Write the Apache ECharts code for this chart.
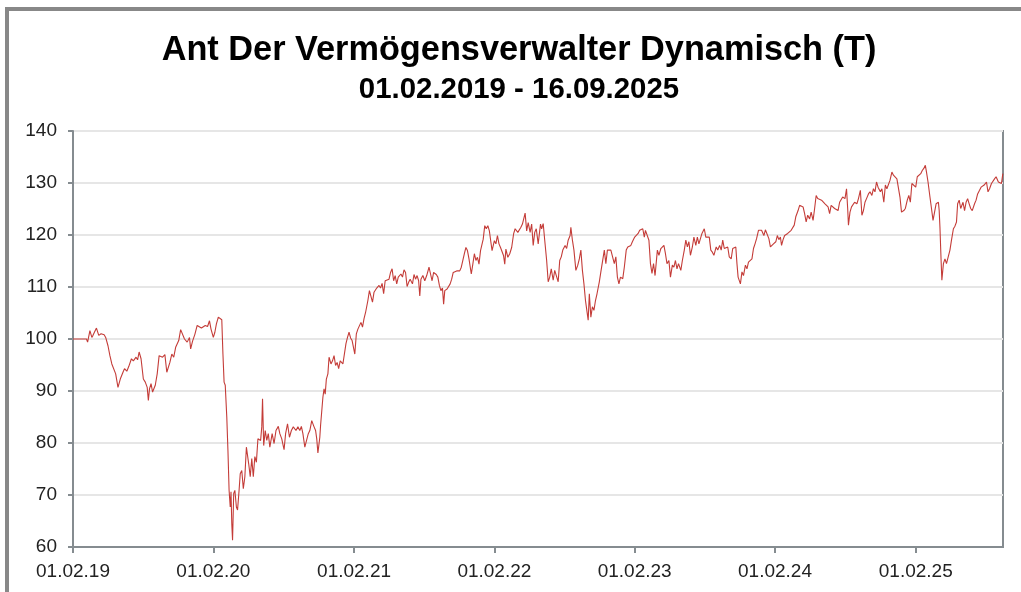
<!DOCTYPE html>
<html>
<head>
<meta charset="utf-8">
<script src="https://cdn.jsdelivr.net/npm/echarts@6.0.0/dist/echarts.min.js"></script>
<style>
  html, body { margin: 0; padding: 0; background: #ffffff; }
  #chart { width: 1021px; height: 592px; }
</style>
</head>
<body>
<div id="chart"></div>
<script>
const titleText = 'Ant Der Vermögensverwalter Dynamisch (T)';
const subtitleText = '01.02.2019 - 16.09.2025';

const tickDates = ['2019-02-01','2020-02-01','2021-02-01','2022-02-01','2023-02-01','2024-02-01','2025-02-01'];
const tickLabels = ['01.02.19','01.02.20','01.02.21','01.02.22','01.02.23','01.02.24','01.02.25'];
const yTicks = [60, 70, 80, 90, 100, 110, 120, 130, 140];

const dates = [
'2019-02-01','2019-03-08','2019-03-11','2019-03-17','2019-03-22','2019-03-25','2019-04-03','2019-04-09','2019-04-15','2019-04-23',
'2019-04-27','2019-05-03','2019-05-08','2019-05-13','2019-05-18','2019-05-23','2019-05-29','2019-06-04','2019-06-11','2019-06-15',
'2019-06-21','2019-06-26','2019-07-03','2019-07-08','2019-07-15','2019-07-19','2019-07-23','2019-07-28','2019-08-03','2019-08-08',
'2019-08-13','2019-08-16','2019-08-19','2019-08-23','2019-08-27','2019-09-03','2019-09-08','2019-09-13','2019-09-17','2019-09-22',
'2019-09-28','2019-10-03','2019-10-08','2019-10-11','2019-10-16','2019-10-21','2019-10-26','2019-11-03','2019-11-08','2019-11-13',
'2019-11-18','2019-11-22','2019-11-25','2019-12-01','2019-12-04','2019-12-09','2019-12-15','2019-12-21','2019-12-26','2020-01-01',
'2020-01-05','2020-01-11','2020-01-17','2020-01-22','2020-01-26','2020-02-01','2020-02-05','2020-02-09','2020-02-14','2020-02-19',
'2020-02-23','2020-02-26','2020-02-29','2020-03-03','2020-03-07','2020-03-10','2020-03-13','2020-03-16','2020-03-18','2020-03-20',
'2020-03-22','2020-03-25','2020-03-28','2020-04-01','2020-04-04','2020-04-08','2020-04-11','2020-04-15','2020-04-19','2020-04-23',
'2020-04-27','2020-05-03','2020-05-07','2020-05-11','2020-05-15','2020-05-19','2020-05-23','2020-05-27','2020-06-03','2020-06-06',
'2020-06-08','2020-06-11','2020-06-15','2020-06-19','2020-06-23','2020-06-27','2020-07-03','2020-07-08','2020-07-13','2020-07-19',
'2020-07-23','2020-07-28','2020-08-03','2020-08-07','2020-08-12','2020-08-17','2020-08-22','2020-08-27','2020-09-03','2020-09-08',
'2020-09-13','2020-09-17','2020-09-21','2020-09-26','2020-10-01','2020-10-05','2020-10-09','2020-10-14','2020-10-19','2020-10-24',
'2020-10-27','2020-10-30','2020-11-04','2020-11-06','2020-11-10','2020-11-12','2020-11-15','2020-11-18','2020-11-21','2020-11-25',
'2020-11-28','2020-12-03','2020-12-07','2020-12-11','2020-12-15','2020-12-19','2020-12-23','2020-12-27','2021-01-03','2021-01-07',
'2021-01-11','2021-01-15','2021-01-19','2021-01-23','2021-01-27','2021-02-03','2021-02-07','2021-02-11','2021-02-15','2021-02-19',
'2021-02-23','2021-02-27','2021-03-03','2021-03-07','2021-03-09','2021-03-13','2021-03-17','2021-03-21','2021-03-25','2021-04-01',
'2021-04-07','2021-04-11','2021-04-15','2021-04-19','2021-04-23','2021-04-27','2021-05-03','2021-05-07','2021-05-11','2021-05-15',
'2021-05-19','2021-05-23','2021-05-27','2021-06-03','2021-06-07','2021-06-11','2021-06-15','2021-06-19','2021-06-23','2021-06-27',
'2021-07-03','2021-07-07','2021-07-11','2021-07-15','2021-07-19','2021-07-22','2021-07-25','2021-07-30','2021-08-04','2021-08-09',
'2021-08-15','2021-08-19','2021-08-23','2021-08-27','2021-09-03','2021-09-07','2021-09-11','2021-09-15','2021-09-19','2021-09-22',
'2021-09-25','2021-10-01','2021-10-05','2021-10-09','2021-10-13','2021-10-17','2021-10-21','2021-10-26','2021-11-03','2021-11-07',
'2021-11-11','2021-11-15','2021-11-19','2021-11-23','2021-11-27','2021-12-03','2021-12-07','2021-12-11','2021-12-15','2021-12-19',
'2021-12-23','2021-12-27','2022-01-03','2022-01-07','2022-01-11','2022-01-15','2022-01-19','2022-01-23','2022-01-26','2022-02-01',
'2022-02-05','2022-02-09','2022-02-13','2022-02-17','2022-02-21','2022-02-25','2022-02-28','2022-03-03','2022-03-08','2022-03-13',
'2022-03-18','2022-03-23','2022-03-27','2022-04-03','2022-04-07','2022-04-11','2022-04-15','2022-04-19','2022-04-22','2022-04-26',
'2022-04-30','2022-05-05','2022-05-09','2022-05-13','2022-05-17','2022-05-21','2022-05-26','2022-06-01','2022-06-04','2022-06-08',
'2022-06-12','2022-06-17','2022-06-21','2022-06-25','2022-06-29','2022-07-04','2022-07-08','2022-07-12','2022-07-17','2022-07-21',
'2022-07-25','2022-07-29','2022-08-04','2022-08-08','2022-08-12','2022-08-17','2022-08-19','2022-08-23','2022-08-27','2022-09-01',
'2022-09-06','2022-09-10','2022-09-14','2022-09-18','2022-09-22','2022-09-26','2022-09-29','2022-10-03','2022-10-06','2022-10-10',
'2022-10-14','2022-10-18','2022-10-22','2022-10-26','2022-11-01','2022-11-05','2022-11-10','2022-11-14','2022-11-18','2022-11-22',
'2022-11-26','2022-12-01','2022-12-05','2022-12-10','2022-12-14','2022-12-18','2022-12-22','2022-12-26','2023-01-01','2023-01-05',
'2023-01-10','2023-01-14','2023-01-18','2023-01-22','2023-01-26','2023-02-01','2023-02-05','2023-02-10','2023-02-14','2023-02-18',
'2023-02-22','2023-02-26','2023-03-01','2023-03-05','2023-03-10','2023-03-14','2023-03-18','2023-03-22','2023-03-26','2023-04-01',
'2023-04-05','2023-04-10','2023-04-14','2023-04-18','2023-04-22','2023-04-26','2023-05-01','2023-05-05','2023-05-10','2023-05-14',
'2023-05-18','2023-05-22','2023-05-26','2023-06-01','2023-06-05','2023-06-10','2023-06-14','2023-06-18','2023-06-22','2023-06-26',
'2023-07-01','2023-07-05','2023-07-10','2023-07-14','2023-07-18','2023-07-22','2023-07-26','2023-08-01','2023-08-05','2023-08-10',
'2023-08-14','2023-08-18','2023-08-22','2023-08-26','2023-09-01','2023-09-05','2023-09-10','2023-09-14','2023-09-18','2023-09-22',
'2023-09-26','2023-10-01','2023-10-05','2023-10-10','2023-10-14','2023-10-18','2023-10-22','2023-10-25','2023-10-28','2023-11-03',
'2023-11-07','2023-11-11','2023-11-16','2023-11-20','2023-11-24','2023-11-28','2023-12-03','2023-12-07','2023-12-11','2023-12-15',
'2023-12-20','2023-12-24','2023-12-28','2024-01-03','2024-01-07','2024-01-11','2024-01-16','2024-01-20','2024-01-24','2024-01-28',
'2024-02-03','2024-02-07','2024-02-11','2024-02-15','2024-02-18','2024-02-22','2024-02-26','2024-03-01','2024-03-05','2024-03-10',
'2024-03-14','2024-03-18','2024-03-22','2024-03-26','2024-04-01','2024-04-05','2024-04-10','2024-04-14','2024-04-18','2024-04-22',
'2024-04-26','2024-05-01','2024-05-05','2024-05-10','2024-05-14','2024-05-18','2024-05-22','2024-05-26','2024-06-01','2024-06-05',
'2024-06-10','2024-06-14','2024-06-18','2024-06-22','2024-06-26','2024-07-01','2024-07-05','2024-07-10','2024-07-14','2024-07-18',
'2024-07-22','2024-07-26','2024-08-01','2024-08-05','2024-08-08','2024-08-10','2024-08-14','2024-08-18','2024-08-22','2024-08-26',
'2024-09-01','2024-09-05','2024-09-10','2024-09-14','2024-09-18','2024-09-22','2024-09-26','2024-10-01','2024-10-05','2024-10-10',
'2024-10-14','2024-10-18','2024-10-22','2024-10-26','2024-11-01','2024-11-05','2024-11-10','2024-11-14','2024-11-18','2024-11-22',
'2024-11-26','2024-12-01','2024-12-05','2024-12-10','2024-12-14','2024-12-18','2024-12-22','2024-12-26','2025-01-01','2025-01-05',
'2025-01-10','2025-01-14','2025-01-18','2025-01-22','2025-01-26','2025-02-01','2025-02-05','2025-02-10','2025-02-14','2025-02-18',
'2025-02-22','2025-02-26','2025-03-01','2025-03-05','2025-03-10','2025-03-14','2025-03-18','2025-03-22','2025-03-26','2025-04-01',
'2025-04-03','2025-04-05','2025-04-08','2025-04-10','2025-04-14','2025-04-18','2025-04-22','2025-05-01','2025-05-05','2025-05-10',
'2025-05-14','2025-05-18','2025-05-21','2025-05-25','2025-05-29','2025-06-04','2025-06-08','2025-06-12','2025-06-16','2025-06-20',
'2025-06-24','2025-06-28','2025-07-04','2025-07-08','2025-07-12','2025-07-17','2025-07-21','2025-07-25','2025-07-29','2025-08-04',
'2025-08-08','2025-08-12','2025-08-17','2025-08-21','2025-08-25','2025-08-29','2025-09-04','2025-09-08','2025-09-12','2025-09-15',
'2025-09-16'
];

const values = [
100.0,100.0,99.4,101.6,100.3,100.7,102.1,100.7,101.0,100.8,
100.3,98.7,96.8,95.2,95.1,93.3,90.7,92.3,93.6,94.3,
93.8,94.7,96.2,95.8,96.5,96.0,97.5,96.2,92.3,91.7,
90.7,88.2,90.4,91.4,89.8,91.1,93.3,96.8,97.0,96.5,
97.0,93.6,93.3,95.5,97.1,96.5,98.4,99.7,101.8,101.6,
100.0,100.3,99.4,100.3,98.1,99.6,100.9,102.6,102.8,102.1,
102.4,102.6,102.4,103.5,101.9,100.3,101.3,102.9,104.2,104.0,
103.7,97.1,91.7,91.1,85.0,78.6,70.9,67.7,70.6,64.5,
61.3,70.3,70.9,67.7,67.1,70.9,74.1,74.7,71.2,73.5,
79.2,76.0,73.5,77.0,73.5,77.4,76.3,80.8,80.5,83.1,
88.5,79.5,82.4,80.5,81.8,79.2,81.8,79.9,82.4,83.2,
81.8,80.8,78.7,81.8,83.7,81.1,82.4,83.1,82.4,83.1,
82.4,83.2,81.8,79.2,78.9,81.8,82.4,84.3,83.3,82.4,
80.8,78.1,81.1,83.4,83.4,88.8,90.4,89.4,92.3,93.3,
96.5,95.2,95.8,96.8,94.9,95.5,94.3,95.8,95.2,95.2,
99.1,100.3,101.3,100.2,99.7,97.1,101.0,101.9,101.6,103.2,
102.3,103.9,105.1,104.8,107.4,109.3,109.6,107.1,109.0,109.8,
110.3,109.8,110.7,108.7,111.2,110.9,111.5,112.8,113.5,111.2,
112.2,110.6,111.9,112.5,111.9,113.3,112.8,110.1,110.9,111.5,
110.6,112.4,111.5,112.2,111.2,108.3,111.5,112.2,111.2,112.2,
113.8,112.5,111.2,112.8,112.4,111.9,110.3,109.3,109.8,106.7,
109.3,109.6,109.3,110.6,111.5,112.8,112.5,113.1,113.1,113.8,
115.1,116.4,117.6,117.0,115.4,112.5,114.4,116.4,115.1,115.7,
114.4,117.0,119.2,121.8,121.2,121.8,120.8,118.6,117.0,118.9,
118.3,119.9,118.3,117.6,117.9,116.0,114.4,117.3,115.7,116.4,
117.6,120.2,121.2,120.5,120.8,121.5,122.1,121.8,124.2,120.8,
122.4,120.5,122.1,118.0,120.5,121.2,118.3,122.1,121.2,122.2,
119.0,115.1,111.0,111.9,113.5,111.3,113.2,113.5,111.0,115.1,
115.8,117.1,118.0,117.4,119.0,119.9,121.5,119.0,117.1,113.2,
114.2,115.4,117.1,113.2,110.6,107.4,105.8,103.6,108.7,104.2,
106.2,105.5,107.4,108.7,111.0,112.9,112.6,117.1,114.5,117.1,
117.4,117.1,117.4,114.5,115.8,111.9,110.6,111.9,111.6,113.8,
117.1,117.7,117.4,118.0,118.7,119.6,119.3,120.3,120.9,120.6,
121.2,119.6,120.9,121.2,119.0,114.5,112.6,114.5,112.2,117.1,
116.1,117.4,117.1,118.0,116.4,114.5,115.1,111.9,114.2,113.8,
115.1,113.5,114.5,113.2,115.1,117.1,119.0,117.7,118.7,116.1,
117.7,119.6,118.0,119.6,118.3,119.3,120.3,121.2,119.6,119.3,
119.6,117.1,116.7,116.1,117.7,117.1,118.0,117.1,119.0,117.4,
117.1,117.7,115.8,115.4,117.4,117.1,117.7,114.5,111.9,110.6,
112.9,112.2,114.2,113.5,114.8,114.5,115.4,117.4,118.3,119.3,
120.9,120.6,120.9,119.9,121.0,121.2,119.3,117.7,117.4,118.3,
118.7,119.9,119.1,119.6,118.0,119.1,119.9,119.6,120.3,120.6,
120.9,121.0,121.9,123.5,124.7,125.7,126.0,125.4,124.1,122.5,
123.8,123.1,124.4,122.8,125.1,127.6,127.0,127.3,126.7,126.8,
126.0,126.3,125.4,124.1,125.7,126.0,125.1,125.4,124.7,126.3,
126.0,127.3,127.0,128.9,125.1,121.9,124.4,125.4,125.1,126.3,
126.0,127.0,128.6,123.8,124.7,126.3,127.0,127.9,128.3,127.6,
128.9,128.3,130.2,129.2,128.3,128.9,126.3,129.6,128.9,129.2,
130.5,132.1,131.5,131.5,130.8,130.5,127.3,124.4,124.7,125.1,
126.7,127.6,126.3,129.9,130.2,129.2,131.2,131.5,131.8,132.4,
132.8,133.4,132.1,130.2,127.3,125.1,122.8,124.4,126.0,126.3,
124.7,121.5,115.1,111.3,114.5,115.4,114.5,117.1,119.0,121.2,
121.7,122.5,126.0,126.7,125.1,126.3,124.7,126.3,127.0,126.0,
125.1,124.7,126.0,126.7,127.9,128.6,129.2,128.9,129.6,130.2,
128.3,128.9,129.9,130.2,130.8,131.2,130.2,130.5,129.9,131.5,
131.8
];

const chart = echarts.init(document.getElementById('chart'), null, { renderer: 'canvas' });
const parse = (s) => +echarts.time.parse(s);
const tickTs = tickDates.map(parse);
const seriesData = dates.map((d, i) => [parse(d), values[i]]);

const axisGray = '#858c90';
const fontFam = '"Liberation Sans", Arial, sans-serif';

chart.setOption({
  animation: false,
  backgroundColor: '#ffffff',
  title: [
    { text: titleText, left: 514, top: 29, textAlign: 'center',
      textStyle: { fontFamily: fontFam, fontSize: 34.3, fontWeight: 'bold', color: '#000' } },
    { text: subtitleText, left: 514, top: 70, textAlign: 'center',
      textStyle: { fontFamily: fontFam, fontSize: 29.4, fontWeight: 'bold', color: '#000' } }
  ],
  graphic: [
    { type: 'rect', shape: { x: 5, y: 7, width: 1016, height: 4 }, style: { fill: '#888888' }, silent: true },
    { type: 'rect', shape: { x: 5, y: 7, width: 4, height: 585 }, style: { fill: '#888888' }, silent: true }
  ],
  grid: {
    left: 73, top: 131, right: 18, bottom: 45,
    containLabel: false, outerBoundsMode: 'none',
    show: true, borderColor: axisGray, borderWidth: 2, backgroundColor: '#fff'
  },
  xAxis: {
    type: 'value',
    min: parse(dates[0]),
    max: parse(dates[dates.length - 1]),
    axisLine: { show: true, lineStyle: { color: axisGray, width: 2 } },
    axisTick: { show: true, length: 6, lineStyle: { color: axisGray, width: 2 }, customValues: tickTs },
    axisLabel: {
      customValues: tickTs,
      margin: 15,
      fontFamily: fontFam, fontSize: 19, color: '#222',
      formatter: function (v) {
        let best = 0;
        for (let i = 1; i < tickTs.length; i++) {
          if (Math.abs(tickTs[i] - v) < Math.abs(tickTs[best] - v)) best = i;
        }
        return tickLabels[best];
      }
    },
    splitLine: { show: false }
  },
  yAxis: {
    type: 'value',
    min: yTicks[0], max: yTicks[yTicks.length - 1], interval: 10,
    axisLine: { show: true, lineStyle: { color: axisGray, width: 2 } },
    axisTick: { show: true, length: 5, lineStyle: { color: axisGray, width: 2 } },
    axisLabel: { margin: 16, fontFamily: fontFam, fontSize: 19, color: '#222' },
    splitLine: { show: true, lineStyle: { color: '#e6e6e6', width: 2 } }
  },
  series: [{
    type: 'line',
    data: seriesData,
    showSymbol: false,
    symbol: 'none',
    lineStyle: { color: '#c43c38', width: 1.1 },
    itemStyle: { color: '#c43c38' },
    z: 3
  }]
});
</script>
</body>
</html>
